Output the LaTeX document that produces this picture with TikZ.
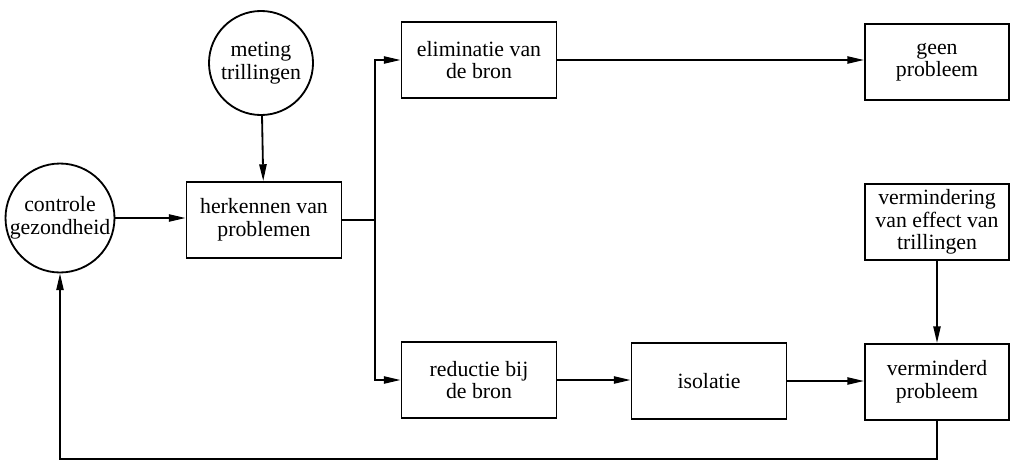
\documentclass[tikz,border=0pt]{standalone}
\usepackage{fontspec}
\setmainfont{Liberation Serif}
\usetikzlibrary{arrows.meta}

\begin{document}
\begin{tikzpicture}[x=0.025cm,y=-0.025cm,
  line width=1.3pt,
  pijl/.style={-{Triangle[length=4.2mm,width=1.8mm]}},
  blok/.style={draw, rectangle, minimum width=3.875cm, minimum height=1.9cm, align=center, inner sep=1pt},
  rblok/.style={blok, minimum width=3.6cm},
  rond/.style={draw, circle, minimum size=2.6cm, inner sep=0pt, align=center},
  every node/.style={font=\fontsize{15.5}{16}\selectfont}]
\useasboundingbox (0,0) rectangle (1011,461);

 \node[rond] at (261,63)  (meting) {meting\\trillingen};
 \node[rond] at (60,218)  (controle) {controle\\gezondheid};
 \node[blok] at (264,220) (herkennen) {herkennen van\\problemen};

 \node[blok] at (479,60)  (eliminatie) {eliminatie van\\de bron};
 \node[blok] at (479,380) (reductie) {reductie bij\\de bron};
 \node[blok] at (709,381) (isolatie) {isolatie};

 \node[rblok] at (937,62)  (geen) {geen\\probleem};
 \node[rblok] at (937,222) (vermindering) {vermindering\\van effect van\\trillingen};
 \node[rblok] at (937,382) (verminderd) {verminderd\\probleem};

 \coordinate (splits) at (375,220);
 \coordinate (onder) at (0,459);

\draw[pijl] (meting) -- (herkennen);
\draw[pijl] (controle) -- (controle -| herkennen.west);
\draw (herkennen.east) -- (splits);
\draw[pijl] (splits) |- (eliminatie.west);
\draw[pijl] (splits) |- (reductie.west);
\draw[pijl] (eliminatie.east) -- (eliminatie.east -| geen.west);
\draw[pijl] (reductie.east) -- (reductie.east -| isolatie.west);
\draw[pijl] (isolatie.east) -- (isolatie.east -| verminderd.west);
\draw[pijl] (vermindering) -- (verminderd);
% terugkoppeling
\draw[pijl] (verminderd.south) -- (verminderd.south |- onder) -| (controle.south);

\end{tikzpicture}
\end{document}
